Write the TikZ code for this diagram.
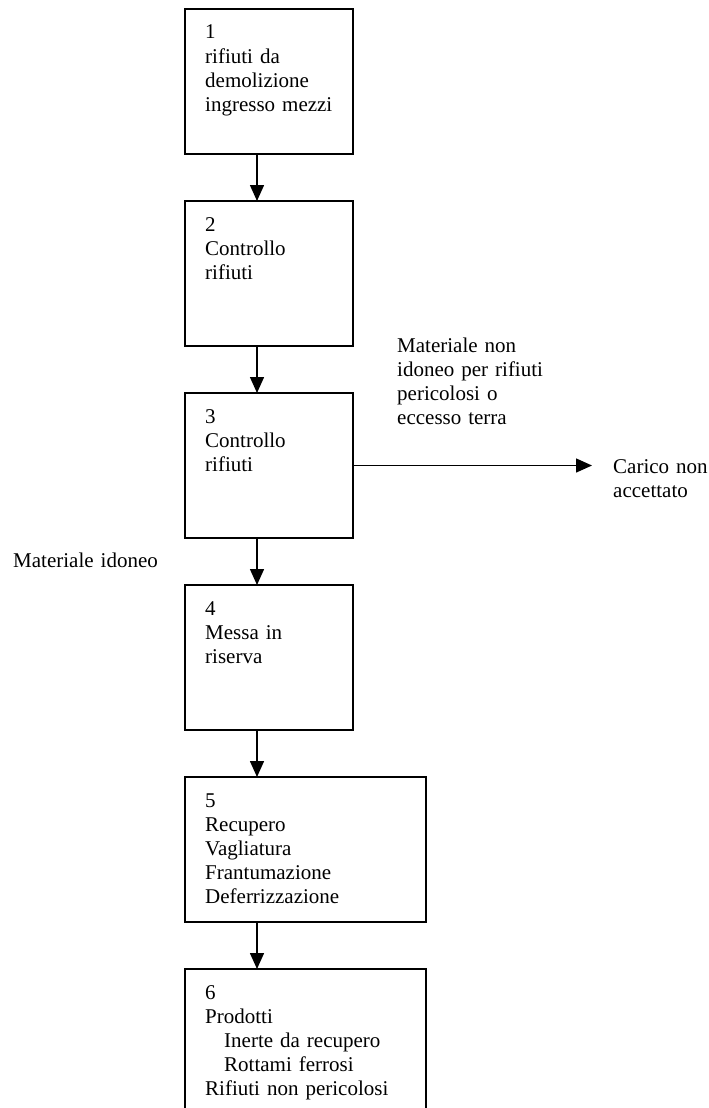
\documentclass[tikz,border=0pt]{standalone}
\usepackage{fontspec}
\setmainfont{Liberation Serif}
\usetikzlibrary{arrows.meta, positioning}
\tikzset{
  stepbox/.style={rectangle, draw=black, line width=1.6pt,
    minimum width=168pt, minimum height=145pt, inner sep=0pt, outer sep=0pt},
  widebox/.style={stepbox, minimum width=241pt},
  boxtext/.style={text width=220pt, align=left, inner sep=0pt,
    anchor=base west, font=\fontsize{21}{24.2}\selectfont},
  arrow/.style={-{Triangle[length=16pt, width=14pt]}, line width=1.5pt, color=black}
}

\begin{document}
\begin{tikzpicture}[x=1pt, y=1pt]
  \clip (0,0) rectangle (709,-1108);
  \node[stepbox, anchor=north west] (b1) at (185,-9) {};
  \node[stepbox, below=47pt of b1] (b2) {};
  \node[stepbox, below=47pt of b2] (b3) {};
  \node[stepbox, below=47pt of b3] (b4) {};
  \node[widebox, below=47pt of b4.south west, anchor=north west] (b5) {};
  \node[widebox, below=47pt of b5.south west, anchor=north west] (b6) {};

  \node[boxtext] (t1) at ([xshift=20pt, yshift=-30pt]b1.north west) {1\\rifiuti da\\demolizione\\ingresso mezzi};
  \node[boxtext] (t2) at ([xshift=20pt, yshift=-30pt]b2.north west) {2\\Controllo\\rifiuti};
  \node[boxtext] (t3) at ([xshift=20pt, yshift=-30pt]b3.north west) {3\\Controllo\\rifiuti};
  \node[boxtext] (t4) at ([xshift=20pt, yshift=-30pt]b4.north west) {4\\Messa in\\riserva};
  \node[boxtext] (t5) at ([xshift=20pt, yshift=-30pt]b5.north west) {5\\Recupero\\Vagliatura\\Frantumazione\\Deferrizzazione};
  \node[boxtext] (t6) at ([xshift=20pt, yshift=-30pt]b6.north west) {6\\Prodotti\\\hspace*{19pt}Inerte da recupero\\\hspace*{19pt}Rottami ferrosi\\Rifiuti non pericolosi};

  \node[boxtext] (note) at (397,-352) {Materiale non\\idoneo per rifiuti\\pericolosi o\\eccesso terra};
  \node[boxtext, text width=95pt] (carico) at (613,-473) {Carico non\\accettato};
  \node[boxtext] (idoneo) at (13,-567) {Materiale idoneo};

  \draw[arrow] ([xshift=72pt]b1.south west) -- ([xshift=72pt]b2.north west);
  \draw[arrow] ([xshift=72pt]b2.south west) -- ([xshift=72pt]b3.north west);
  \draw[arrow] ([xshift=72pt]b3.south west) -- ([xshift=72pt]b4.north west);
  \draw[arrow] ([xshift=72pt]b4.south west) -- ([xshift=72pt]b5.north west);
  \draw[arrow] ([xshift=72pt]b5.south west) -- ([xshift=72pt]b6.north west);
  \draw[arrow, shorten >=21pt] (b3.east) -- (b3.east -| carico.west);
\end{tikzpicture}
\end{document}
